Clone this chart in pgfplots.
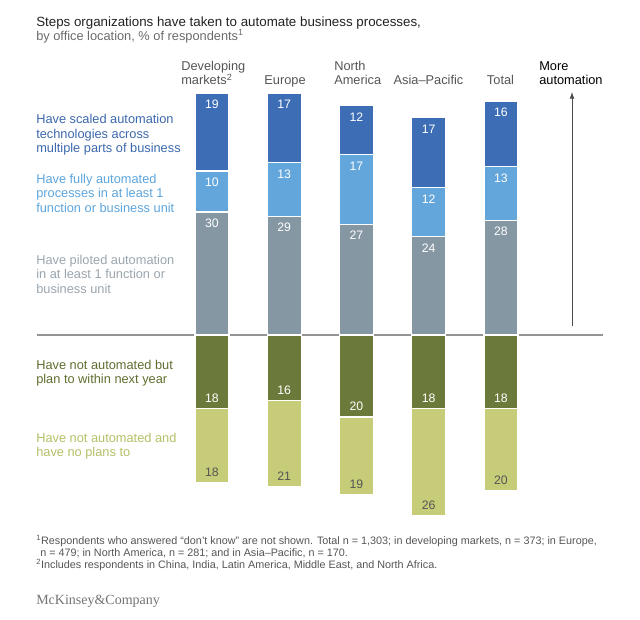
\documentclass[border=0pt]{standalone}
\usepackage{pgfplots}
\pgfplotsset{compat=1.18}
\usepackage{pgfplotstable}
\usetikzlibrary{arrows.meta}
\usepackage{fontspec}
\setmainfont{Liberation Sans}
\newfontfamily\mckfont{Liberation Serif}
\definecolor{cScaled}{HTML}{3D6DB5}
\definecolor{cFully}{HTML}{62A6DC}
\definecolor{cPilot}{HTML}{8697A4}
\definecolor{cPlan}{HTML}{6B7A3A}
\definecolor{cNo}{HTML}{C7CC78}
\definecolor{tScaled}{HTML}{3B68AC}
\definecolor{tFully}{HTML}{5DA5DD}
\definecolor{tPilot}{HTML}{9AA5AE}
\definecolor{tPlan}{HTML}{5F6E30}
\definecolor{tNo}{HTML}{B5BF66}
\definecolor{tCat}{HTML}{555555}
\definecolor{tTitle}{HTML}{222222}
\definecolor{tSub}{HTML}{6A6A6A}
\definecolor{tFoot}{HTML}{555555}

\pgfplotstableread{
x scaled fully piloted plan noplan
0 19 10 30 18 18
1 17 13 29 16 21
2 12 17 27 20 19
3 17 12 24 18 26
4 16 13 28 18 20
}\data

\pgfplotsset{base/.style={
  hide axis, scale only axis,
  width=424.5pt, height=325.95pt,
  xmin=-2.422, xmax=5.412, ymin=-46, ymax=60,
  at={(27.75pt,71.55pt)}, anchor=south west,
  ybar stacked, bar width=25.5pt, clip=false,
  point meta=explicit,
  /pgf/number format/assume math mode=true,
  nodes near coords,
  nodes near coords style={font=\fontsize{9.2}{10}\selectfont, inner sep=0pt, anchor=center},
}}

\newcommand\lab{\fontsize{9.6}{11}\selectfont}
\newcommand\foot{\fontsize{8.1}{9}\selectfont}

\begin{document}
\begin{tikzpicture}
\useasboundingbox (0,0) rectangle (480pt,464.25pt);

% positive stack
\begin{axis}[base]
\addplot[fill=cPilot, draw=white, line width=0.8pt,
  visualization depends on={\thisrow{piloted} \as \h},
  every node near coord/.append style={text=white, anchor=center, yshift={\h*1.5375pt-8.5pt}}]
  table[x=x, y=piloted, meta=piloted] {\data};
\addplot[fill=cFully, draw=white, line width=0.8pt,
  visualization depends on={\thisrow{fully} \as \h},
  every node near coord/.append style={text=white, anchor=center, yshift={\h*1.5375pt-8.5pt}}]
  table[x=x, y=fully, meta=fully] {\data};
\addplot[fill=cScaled, draw=white, line width=0.8pt,
  visualization depends on={\thisrow{scaled} \as \h},
  every node near coord/.append style={text=white, anchor=center, yshift={\h*1.5375pt-8.5pt}}]
  table[x=x, y=scaled, meta=scaled] {\data};
\end{axis}

% negative stack
\begin{axis}[base]
\addplot[fill=cPlan, draw=white, line width=0.8pt,
  visualization depends on={\thisrow{plan} \as \h},
  every node near coord/.append style={text=white, anchor=center, yshift={-\h*1.5375pt+7.9pt}}]
  table[x=x, y expr=-\thisrow{plan}, meta=plan] {\data};
\addplot[fill=cNo, draw=white, line width=0.8pt,
  visualization depends on={\thisrow{noplan} \as \h},
  every node near coord/.append style={text=tCat, anchor=center, yshift={-\h*1.5375pt+7.9pt}}]
  table[x=x, y expr=-\thisrow{noplan}, meta=noplan] {\data};
\draw[color=black!42, line width=0.9pt] (axis cs:-2.422,0) -- (axis cs:5.412,0);
\end{axis}

\begin{scope}[x=0.75pt, y=-0.75pt, yshift=464.25pt]
\tikzset{every node/.style={inner sep=0pt}}
% title
\node[anchor=base west, text=tTitle, font=\fontsize{10}{12}\selectfont] at (36,27) {Steps organizations have taken to automate business processes,};
\node[anchor=base west, text=tSub, font=\fontsize{9.6}{11}\selectfont] at (36,40.5) {by office location, \% of respondents\textsuperscript{1}};

% category labels
\node[anchor=base west, text=tCat, font=\lab] at (181,71) {Developing};
\node[anchor=base west, text=tCat, font=\lab] at (181,85) {markets\textsuperscript{2}};
\node[anchor=base, text=tCat, font=\lab] at (285,85) {Europe};
\node[anchor=base west, text=tCat, font=\lab] at (334,71) {North};
\node[anchor=base west, text=tCat, font=\lab] at (334,85) {America};
\node[anchor=base, text=tCat, font=\lab] at (428.5,85) {Asia–Pacific};
\node[anchor=base, text=tCat, font=\lab] at (500.5,85) {Total};
\node[anchor=base west, text=black, font=\lab] at (539,71) {More};
\node[anchor=base west, text=black, font=\lab] at (539,85) {automation};
\draw[-{Latex[length=5pt,width=3.6pt]}, color=black!70, line width=0.6pt] (572,326) -- (572,92);

% series labels
\node[anchor=base west, text=tScaled, font=\lab] at (36,124) {Have scaled automation};
\node[anchor=base west, text=tScaled, font=\lab] at (36,138.5) {technologies across};
\node[anchor=base west, text=tScaled, font=\lab] at (36,153) {multiple parts of business};

\node[anchor=base west, text=tFully, font=\lab] at (36,183.5) {Have fully automated};
\node[anchor=base west, text=tFully, font=\lab] at (36,198) {processes in at least 1};
\node[anchor=base west, text=tFully, font=\lab] at (36,212.5) {function or business unit};

\node[anchor=base west, text=tPilot, font=\lab] at (36,264.5) {Have piloted automation};
\node[anchor=base west, text=tPilot, font=\lab] at (36,279) {in at least 1 function or};
\node[anchor=base west, text=tPilot, font=\lab] at (36,293.5) {business unit};

\node[anchor=base west, text=tPlan, font=\lab] at (36,369) {Have not automated but};
\node[anchor=base west, text=tPlan, font=\lab] at (36,383.5) {plan to within next year};

\node[anchor=base west, text=tNo, font=\lab] at (36,442) {Have not automated and};
\node[anchor=base west, text=tNo, font=\lab] at (36,456.5) {have no plans to};

% footnotes
\node[anchor=base west, text=tFoot, font=\foot] at (36,544.5) {\textsuperscript{1}Respondents who answered “don’t know” are not shown. Total n = 1,303; in developing markets, n = 373; in Europe,};
\node[anchor=base west, text=tFoot, font=\foot] at (40,556.5) {n = 479; in North America, n = 281; and in Asia–Pacific, n = 170.};
\node[anchor=base west, text=tFoot, font=\foot] at (36,568.5) {\textsuperscript{2}Includes respondents in China, India, Latin America, Middle East, and North Africa.};

\node[anchor=base west, text=black!55, font=\mckfont\fontsize{10.5}{13}\selectfont] at (36,604.5) {McKinsey\&Company};
\end{scope}
\end{tikzpicture}
\end{document}
